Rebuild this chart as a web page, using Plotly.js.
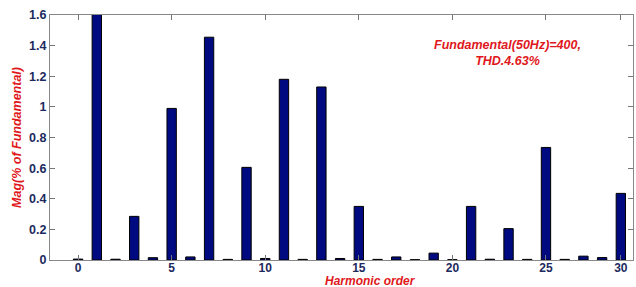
<!DOCTYPE html>
<html>
<head>
<meta charset="utf-8">
<script src="https://cdn.plot.ly/plotly-3.0.1.min.js"></script>
<style>html,body{margin:0;padding:0;background:#fff;}#chart{width:636px;height:287px;}</style>
</head>
<body>
<div id="chart"></div>
<script>
// Harmonic order (x) and magnitude in % of fundamental (y)
const harmonicOrder = [0,1,2,3,4,5,6,7,8,9,10,11,12,13,14,15,16,17,18,19,20,21,22,23,24,25,26,27,28,29];
const magnitude = [0.006,100,0.005,0.285,0.015,0.99,0.02,1.455,0.004,0.605,0.01,1.18,0.004,1.13,0.01,0.35,0.004,0.02,0.002,0.045,0.002,0.35,0.005,0.205,0.004,0.735,0.004,0.025,0.016,0.435];
const xTickVals = [0,5,10,15,20,25,29];
const xTickText = ['0','5','10','15','20','25','30'];
const yTickVals = [0,0.2,0.4,0.6,0.8,1,1.2,1.4,1.6];
const yTickText = ['0','0.2','0.4','0.6','0.8','1','1.2','1.4','1.6'];
const noteLines = ['Fundamental(50Hz)=400,','THD.4.63%'];

const red = '#e0181c';
const navyText = '#1c2a5e';
const tickFont = {family:'Liberation Sans, Arial, sans-serif', size:12.5, color:navyText, weight:'bold'};

Plotly.newPlot('chart', [{
  type:'bar',
  x: harmonicOrder,
  y: magnitude,
  width: 0.5,
  marker:{color:'#000a80', line:{color:'#000000', width:1}},
  hoverinfo:'x+y'
}], {
  width:636, height:287,
  margin:{l:50, r:3, t:15, b:27},
  paper_bgcolor:'#fff', plot_bgcolor:'#fff',
  showlegend:false,
  bargap:0,
  xaxis:{
    range:[-1.5, 29.65], tickvals:xTickVals, ticktext:xTickText,
    ticks:'inside', ticklen:5, tickcolor:'#777', ticklabelstandoff:-3,
    showline:true, linecolor:'#888', linewidth:1, mirror:'ticks',
    showgrid:false, zeroline:false,
    tickfont:{family:'Liberation Sans, Arial, sans-serif', size:12, color:navyText, weight:'bold'}
  },
  yaxis:{
    range:[0,1.6], tickvals:yTickVals, ticktext:yTickText,
    ticks:'inside', ticklen:5, tickcolor:'#777',
    showline:true, linecolor:'#888', linewidth:1, mirror:'ticks',
    showgrid:false, zeroline:false, tickfont:tickFont,
    title:{text:'<i>Mag(% of Fundamental)</i>', standoff:4,
      font:{family:'Liberation Sans, Arial, sans-serif', size:12.5, color:red, weight:'bold'}}
  },
  annotations:[
    {xref:'paper', yref:'paper', x:(370-50)/583, y:-(280.5-260)/245, yanchor:'middle', xanchor:'center', showarrow:false,
     text:'<b><i>Harmonic order</i></b>', font:{family:'Liberation Sans, Arial, sans-serif', size:12, color:red}},
    {xref:'paper', yref:'paper', x:(507-50)/583, y:(260-53)/245, xanchor:'center', yanchor:'middle', showarrow:false,
     text:'<b><i>'+noteLines.join('<br>')+'</i></b>', font:{family:'Liberation Sans, Arial, sans-serif', size:12.5, color:red}}
  ]
}, {displayModeBar:false, staticPlot:true});
</script>
</body>
</html>
